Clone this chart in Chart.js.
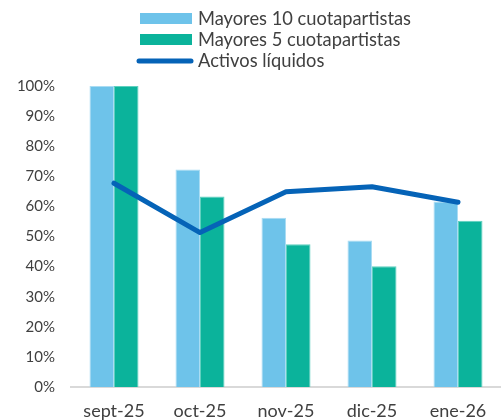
<!DOCTYPE html>
<html>
<head>
<meta charset="utf-8">
<script src="https://cdn.jsdelivr.net/npm/chart.js@4/dist/chart.umd.min.js"></script>
<style>
  html, body { margin: 0; padding: 0; background: #fff; }
  #wrap { width: 501px; height: 420px; }
</style>
</head>
<body>
<div id="wrap"><canvas id="canvas" width="501" height="420"></canvas></div>
<script>
var months = ["sept-25", "oct-25", "nov-25", "dic-25", "ene-26"];
var top10 = [100, 72.3, 56.2, 48.7, 61.6];
var top5 = [100, 63.3, 47.4, 40.1, 55.2];
var liquidos = [67.7, 51.3, 64.9, 66.5, 61.4];
var yTicks = [0, 10, 20, 30, 40, 50, 60, 70, 80, 90, 100];

var textColor = "#404040";

// legend drawn as a vertical list, left aligned
var stackedLegend = {
    id: "stackedLegend",
    afterDraw: function (chart) {
        var ctx = chart.ctx;
        var rows = [19, 40, 61];
        ctx.save();
        ctx.font = "18.3px Lato";
        ctx.fillStyle = textColor;
        ctx.textBaseline = "middle";
        chart.data.datasets.forEach(function (ds, i) {
            var y = rows[i];
            if (ds.type === "line") {
                ctx.strokeStyle = ds.borderColor;
                ctx.lineWidth = 5;
                ctx.lineCap = "round";
                ctx.beginPath();
                ctx.moveTo(139, y);
                ctx.lineTo(191, y);
                ctx.stroke();
            } else {
                ctx.fillStyle = ds.backgroundColor;
                ctx.fillRect(140, y - 6, 52, 11);
            }
            ctx.fillStyle = textColor;
            ctx.fillText(ds.label, 198, y);
        });
        ctx.restore();
    }
};

var config = {
    data: {
        labels: months,
        datasets: [
            {
                type: "bar",
                label: "Mayores 10 cuotapartistas",
                data: top10,
                backgroundColor: "#6ec3ea",
                borderColor: "#a9dcf3",
                borderWidth: 1,
                order: 2
            },
            {
                type: "bar",
                label: "Mayores 5 cuotapartistas",
                data: top5,
                backgroundColor: "#0bb39b",
                borderColor: "#5fd0bf",
                borderWidth: 1,
                order: 2
            },
            {
                type: "line",
                label: "Activos líquidos",
                data: liquidos,
                borderColor: "#0563b7",
                backgroundColor: "#0563b7",
                borderWidth: 5,
                borderCapStyle: "round",
                borderJoinStyle: "round",
                pointRadius: 0,
                tension: 0,
                fill: false,
                order: 0
            }
        ]
    },
    options: {
        responsive: false,
        animation: false,
        layout: { padding: { top: 86, right: 0, left: 0, bottom: 0 } },
        datasets: {
            bar: { categoryPercentage: 0.57, barPercentage: 1 }
        },
        plugins: {
            legend: { display: false },
            tooltip: { enabled: false }
        },
        scales: {
            x: {
                grid: { display: false },
                border: { display: true, color: "#d9d9d9", width: 2 },
                ticks: {
                    color: textColor,
                    font: { family: "Lato", size: 18 },
                    padding: 5,
                    maxRotation: 0
                },
                afterFit: function (scale) { scale.height = 33; }
            },
            y: {
                min: 0,
                max: 100,
                afterBuildTicks: function (scale) {
                    scale.ticks = yTicks.map(function (v) { return { value: v }; });
                },
                grid: { display: false },
                border: { display: false },
                ticks: {
                    color: textColor,
                    font: { family: "Lato", size: 15 },
                    padding: 8,
                    callback: function (v) { return v + "%"; }
                },
                afterFit: function (scale) { scale.width = 71; }
            }
        }
    },
    plugins: [stackedLegend]
};

window.onload = function () {
    var ctx = document.getElementById("canvas").getContext("2d");
    window.myChart = new Chart(ctx, config);
};
</script>
</body>
</html>
